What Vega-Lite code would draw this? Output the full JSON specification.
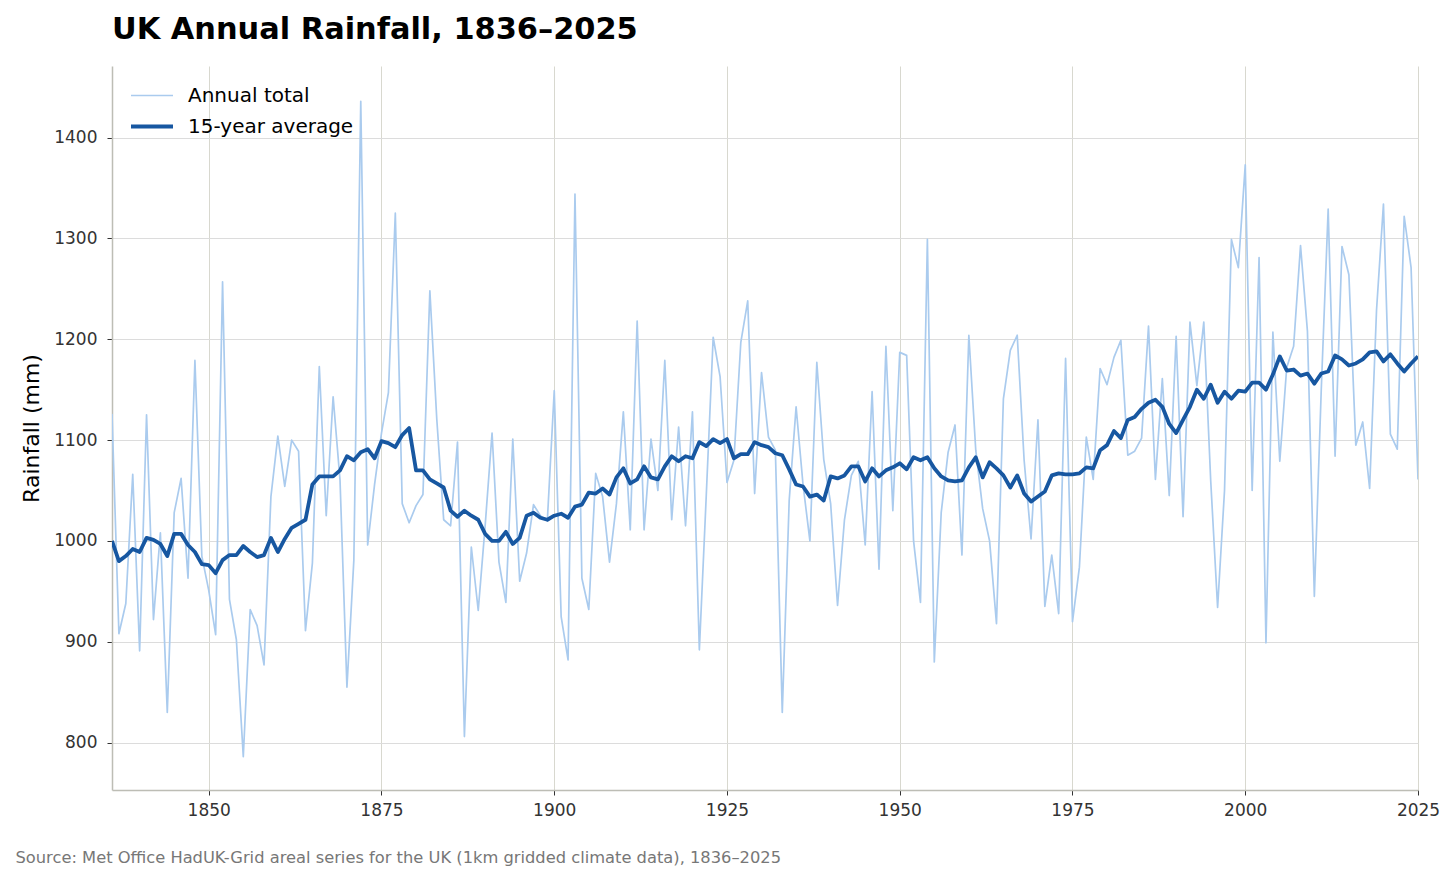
{
  "$schema": "https://vega.github.io/schema/vega-lite/v6.json",
  "description": "UK annual rainfall 1836-2025 with a 15-year average.",
  "autosize": {"type": "none"},
  "padding": {"left": 112, "top": 66, "right": 38, "bottom": 89},
  "width": 1306,
  "height": 724,
  "title": {
    "text": "UK Annual Rainfall, 1836–2025",
    "anchor": "start",
    "frame": "group",
    "font": "DejaVu Sans",
    "fontSize": 30.4,
    "fontWeight": "bold",
    "color": "#000000",
    "offset": 21
  },
  "data": {
    "values": [
      {"year": 1836, "annual": 1126, "avg15": 1000},
      {"year": 1837, "annual": 908, "avg15": 980},
      {"year": 1838, "annual": 938, "avg15": 985},
      {"year": 1839, "annual": 1066, "avg15": 992},
      {"year": 1840, "annual": 891, "avg15": 989},
      {"year": 1841, "annual": 1125, "avg15": 1003},
      {"year": 1842, "annual": 922, "avg15": 1001},
      {"year": 1843, "annual": 1008, "avg15": 997},
      {"year": 1844, "annual": 830, "avg15": 985},
      {"year": 1845, "annual": 1028, "avg15": 1007},
      {"year": 1846, "annual": 1062, "avg15": 1007},
      {"year": 1847, "annual": 963, "avg15": 996},
      {"year": 1848, "annual": 1179, "avg15": 989},
      {"year": 1849, "annual": 985, "avg15": 977},
      {"year": 1850, "annual": 951, "avg15": 976},
      {"year": 1851, "annual": 907, "avg15": 968},
      {"year": 1852, "annual": 1257, "avg15": 981},
      {"year": 1853, "annual": 942, "avg15": 986},
      {"year": 1854, "annual": 902, "avg15": 986},
      {"year": 1855, "annual": 786, "avg15": 995},
      {"year": 1856, "annual": 932, "avg15": 989},
      {"year": 1857, "annual": 916, "avg15": 984},
      {"year": 1858, "annual": 877, "avg15": 986},
      {"year": 1859, "annual": 1044, "avg15": 1003},
      {"year": 1860, "annual": 1104, "avg15": 989},
      {"year": 1861, "annual": 1054, "avg15": 1002},
      {"year": 1862, "annual": 1100, "avg15": 1013},
      {"year": 1863, "annual": 1089, "avg15": 1017},
      {"year": 1864, "annual": 911, "avg15": 1021},
      {"year": 1865, "annual": 978, "avg15": 1056},
      {"year": 1866, "annual": 1173, "avg15": 1064},
      {"year": 1867, "annual": 1025, "avg15": 1064},
      {"year": 1868, "annual": 1143, "avg15": 1064},
      {"year": 1869, "annual": 1060, "avg15": 1070},
      {"year": 1870, "annual": 855, "avg15": 1084},
      {"year": 1871, "annual": 981, "avg15": 1080},
      {"year": 1872, "annual": 1436, "avg15": 1088},
      {"year": 1873, "annual": 996, "avg15": 1091},
      {"year": 1874, "annual": 1056, "avg15": 1082},
      {"year": 1875, "annual": 1107, "avg15": 1099},
      {"year": 1876, "annual": 1147, "avg15": 1097},
      {"year": 1877, "annual": 1325, "avg15": 1093},
      {"year": 1878, "annual": 1037, "avg15": 1105},
      {"year": 1879, "annual": 1018, "avg15": 1112},
      {"year": 1880, "annual": 1035, "avg15": 1070},
      {"year": 1881, "annual": 1046, "avg15": 1070},
      {"year": 1882, "annual": 1248, "avg15": 1061},
      {"year": 1883, "annual": 1121, "avg15": 1057},
      {"year": 1884, "annual": 1021, "avg15": 1053},
      {"year": 1885, "annual": 1015, "avg15": 1030},
      {"year": 1886, "annual": 1098, "avg15": 1024},
      {"year": 1887, "annual": 806, "avg15": 1030},
      {"year": 1888, "annual": 994, "avg15": 1025},
      {"year": 1889, "annual": 931, "avg15": 1021},
      {"year": 1890, "annual": 1015, "avg15": 1007},
      {"year": 1891, "annual": 1107, "avg15": 1000},
      {"year": 1892, "annual": 979, "avg15": 1000},
      {"year": 1893, "annual": 939, "avg15": 1009},
      {"year": 1894, "annual": 1101, "avg15": 997},
      {"year": 1895, "annual": 960, "avg15": 1003},
      {"year": 1896, "annual": 988, "avg15": 1025},
      {"year": 1897, "annual": 1036, "avg15": 1028},
      {"year": 1898, "annual": 1025, "avg15": 1023},
      {"year": 1899, "annual": 1020, "avg15": 1021},
      {"year": 1900, "annual": 1149, "avg15": 1025},
      {"year": 1901, "annual": 925, "avg15": 1027},
      {"year": 1902, "annual": 882, "avg15": 1023},
      {"year": 1903, "annual": 1344, "avg15": 1034},
      {"year": 1904, "annual": 963, "avg15": 1036},
      {"year": 1905, "annual": 932, "avg15": 1048},
      {"year": 1906, "annual": 1067, "avg15": 1047},
      {"year": 1907, "annual": 1044, "avg15": 1052},
      {"year": 1908, "annual": 979, "avg15": 1046},
      {"year": 1909, "annual": 1037, "avg15": 1063},
      {"year": 1910, "annual": 1128, "avg15": 1072},
      {"year": 1911, "annual": 1011, "avg15": 1057},
      {"year": 1912, "annual": 1218, "avg15": 1061},
      {"year": 1913, "annual": 1011, "avg15": 1074},
      {"year": 1914, "annual": 1101, "avg15": 1063},
      {"year": 1915, "annual": 1050, "avg15": 1061},
      {"year": 1916, "annual": 1179, "avg15": 1074},
      {"year": 1917, "annual": 1021, "avg15": 1084},
      {"year": 1918, "annual": 1113, "avg15": 1079},
      {"year": 1919, "annual": 1015, "avg15": 1084},
      {"year": 1920, "annual": 1128, "avg15": 1082},
      {"year": 1921, "annual": 892, "avg15": 1098},
      {"year": 1922, "annual": 1045, "avg15": 1094},
      {"year": 1923, "annual": 1202, "avg15": 1101},
      {"year": 1924, "annual": 1163, "avg15": 1097},
      {"year": 1925, "annual": 1058, "avg15": 1101},
      {"year": 1926, "annual": 1080, "avg15": 1082},
      {"year": 1927, "annual": 1197, "avg15": 1086},
      {"year": 1928, "annual": 1238, "avg15": 1086},
      {"year": 1929, "annual": 1047, "avg15": 1098},
      {"year": 1930, "annual": 1167, "avg15": 1095},
      {"year": 1931, "annual": 1103, "avg15": 1093},
      {"year": 1932, "annual": 1090, "avg15": 1087},
      {"year": 1933, "annual": 830, "avg15": 1085},
      {"year": 1934, "annual": 1040, "avg15": 1071},
      {"year": 1935, "annual": 1133, "avg15": 1056},
      {"year": 1936, "annual": 1056, "avg15": 1054},
      {"year": 1937, "annual": 1000, "avg15": 1044},
      {"year": 1938, "annual": 1177, "avg15": 1046},
      {"year": 1939, "annual": 1081, "avg15": 1040},
      {"year": 1940, "annual": 1037, "avg15": 1064},
      {"year": 1941, "annual": 936, "avg15": 1062},
      {"year": 1942, "annual": 1021, "avg15": 1065},
      {"year": 1943, "annual": 1065, "avg15": 1074},
      {"year": 1944, "annual": 1079, "avg15": 1074},
      {"year": 1945, "annual": 996, "avg15": 1059},
      {"year": 1946, "annual": 1148, "avg15": 1072},
      {"year": 1947, "annual": 972, "avg15": 1064},
      {"year": 1948, "annual": 1193, "avg15": 1070},
      {"year": 1949, "annual": 1030, "avg15": 1073},
      {"year": 1950, "annual": 1187, "avg15": 1077},
      {"year": 1951, "annual": 1184, "avg15": 1071},
      {"year": 1952, "annual": 1000, "avg15": 1083},
      {"year": 1953, "annual": 939, "avg15": 1080},
      {"year": 1954, "annual": 1299, "avg15": 1083},
      {"year": 1955, "annual": 880, "avg15": 1072},
      {"year": 1956, "annual": 1028, "avg15": 1064},
      {"year": 1957, "annual": 1088, "avg15": 1060},
      {"year": 1958, "annual": 1115, "avg15": 1059},
      {"year": 1959, "annual": 986, "avg15": 1060},
      {"year": 1960, "annual": 1204, "avg15": 1073},
      {"year": 1961, "annual": 1090, "avg15": 1083},
      {"year": 1962, "annual": 1032, "avg15": 1063},
      {"year": 1963, "annual": 1000, "avg15": 1078},
      {"year": 1964, "annual": 918, "avg15": 1072},
      {"year": 1965, "annual": 1141, "avg15": 1065},
      {"year": 1966, "annual": 1189, "avg15": 1053},
      {"year": 1967, "annual": 1204, "avg15": 1065},
      {"year": 1968, "annual": 1080, "avg15": 1047},
      {"year": 1969, "annual": 1002, "avg15": 1039},
      {"year": 1970, "annual": 1120, "avg15": 1044},
      {"year": 1971, "annual": 935, "avg15": 1049},
      {"year": 1972, "annual": 986, "avg15": 1065},
      {"year": 1973, "annual": 928, "avg15": 1067},
      {"year": 1974, "annual": 1181, "avg15": 1066},
      {"year": 1975, "annual": 920, "avg15": 1066},
      {"year": 1976, "annual": 974, "avg15": 1067},
      {"year": 1977, "annual": 1103, "avg15": 1073},
      {"year": 1978, "annual": 1061, "avg15": 1072},
      {"year": 1979, "annual": 1171, "avg15": 1090},
      {"year": 1980, "annual": 1155, "avg15": 1095},
      {"year": 1981, "annual": 1182, "avg15": 1109},
      {"year": 1982, "annual": 1199, "avg15": 1102},
      {"year": 1983, "annual": 1085, "avg15": 1120},
      {"year": 1984, "annual": 1089, "avg15": 1123},
      {"year": 1985, "annual": 1102, "avg15": 1131},
      {"year": 1986, "annual": 1213, "avg15": 1137},
      {"year": 1987, "annual": 1061, "avg15": 1140},
      {"year": 1988, "annual": 1161, "avg15": 1133},
      {"year": 1989, "annual": 1045, "avg15": 1116},
      {"year": 1990, "annual": 1203, "avg15": 1107},
      {"year": 1991, "annual": 1024, "avg15": 1120},
      {"year": 1992, "annual": 1217, "avg15": 1133},
      {"year": 1993, "annual": 1154, "avg15": 1150},
      {"year": 1994, "annual": 1217, "avg15": 1141},
      {"year": 1995, "annual": 1060, "avg15": 1155},
      {"year": 1996, "annual": 934, "avg15": 1137},
      {"year": 1997, "annual": 1050, "avg15": 1148},
      {"year": 1998, "annual": 1299, "avg15": 1141},
      {"year": 1999, "annual": 1271, "avg15": 1149},
      {"year": 2000, "annual": 1373, "avg15": 1148},
      {"year": 2001, "annual": 1050, "avg15": 1157},
      {"year": 2002, "annual": 1281, "avg15": 1157},
      {"year": 2003, "annual": 899, "avg15": 1150},
      {"year": 2004, "annual": 1207, "avg15": 1165},
      {"year": 2005, "annual": 1079, "avg15": 1183},
      {"year": 2006, "annual": 1172, "avg15": 1169},
      {"year": 2007, "annual": 1193, "avg15": 1170},
      {"year": 2008, "annual": 1293, "avg15": 1164},
      {"year": 2009, "annual": 1208, "avg15": 1166},
      {"year": 2010, "annual": 945, "avg15": 1156},
      {"year": 2011, "annual": 1150, "avg15": 1166},
      {"year": 2012, "annual": 1329, "avg15": 1168},
      {"year": 2013, "annual": 1084, "avg15": 1184},
      {"year": 2014, "annual": 1292, "avg15": 1180},
      {"year": 2015, "annual": 1264, "avg15": 1174},
      {"year": 2016, "annual": 1095, "avg15": 1176},
      {"year": 2017, "annual": 1118, "avg15": 1180},
      {"year": 2018, "annual": 1052, "avg15": 1187},
      {"year": 2019, "annual": 1229, "avg15": 1188},
      {"year": 2020, "annual": 1334, "avg15": 1178},
      {"year": 2021, "annual": 1106, "avg15": 1185},
      {"year": 2022, "annual": 1091, "avg15": 1176},
      {"year": 2023, "annual": 1322, "avg15": 1168},
      {"year": 2024, "annual": 1271, "avg15": 1176},
      {"year": 2025, "annual": 1061, "avg15": 1183}
    ]
  },
  "transform": [
    {"fold": ["annual", "avg15"], "as": ["series", "value"]}
  ],
  "mark": {"type": "line", "clip": true, "strokeJoin": "round"},
  "encoding": {
    "x": {
      "field": "year",
      "type": "quantitative",
      "scale": {"domain": [1836, 2025], "nice": false, "zero": false},
      "axis": {
        "values": [1850, 1875, 1900, 1925, 1950, 1975, 2000, 2025],
        "format": "d",
        "labelFlush": false,
        "labelPadding": 7,
        "gridColor": "#d8d8cf",
        "title": "Source: Met Office HadUK-Grid areal series for the UK (1km gridded climate data), 1836–2025",
        "titleX": -97,
        "titleY": 72,
        "titleAlign": "left",
        "titleAnchor": "start",
        "titleBaseline": "alphabetic",
        "titleFontSize": 16.3,
        "titleFontWeight": "normal",
        "titleColor": "#777777",
        "titleLimit": 1200
      }
    },
    "y": {
      "field": "value",
      "type": "quantitative",
      "scale": {"domain": [753, 1471], "nice": false, "zero": false},
      "axis": {
        "values": [800, 900, 1000, 1100, 1200, 1300, 1400],
        "format": "d",
        "labelPadding": 10,
        "title": "Rainfall (mm)",
        "titleFontSize": 22,
        "titleFontWeight": "normal",
        "titleColor": "#000000",
        "titlePadding": 10,
        "gridColor": "#dcdcdc"
      }
    },
    "color": {
      "field": "series",
      "type": "nominal",
      "scale": {"domain": ["annual", "avg15"], "range": ["#aacbee", "#1757a1"]},
      "legend": {
        "title": null,
        "orient": "none",
        "legendX": 17,
        "legendY": 18,
        "padding": 0,
        "symbolType": "M-1,0H3",
        "symbolSize": 441,
        "labelFontSize": 20,
        "labelColor": "#000000",
        "labelOffset": 34,
        "labelLimit": 400,
        "rowPadding": 8,
        "labelExpr": "datum.label == 'annual' ? 'Annual total' : '15-year average'"
      }
    },
    "strokeWidth": {
      "field": "series",
      "type": "nominal",
      "scale": {"domain": ["annual", "avg15"], "range": [1.7, 3.8]}
    }
  },
  "config": {
    "font": "DejaVu Sans",
    "view": {"stroke": null},
    "axis": {
      "grid": true,
      "gridWidth": 1,
      "domainColor": "#bdbdb5",
      "domainWidth": 1.5,
      "tickColor": "#333333",
      "tickSize": 5,
      "tickWidth": 1,
      "labelFontSize": 17,
      "labelColor": "#333333"
    }
  }
}
